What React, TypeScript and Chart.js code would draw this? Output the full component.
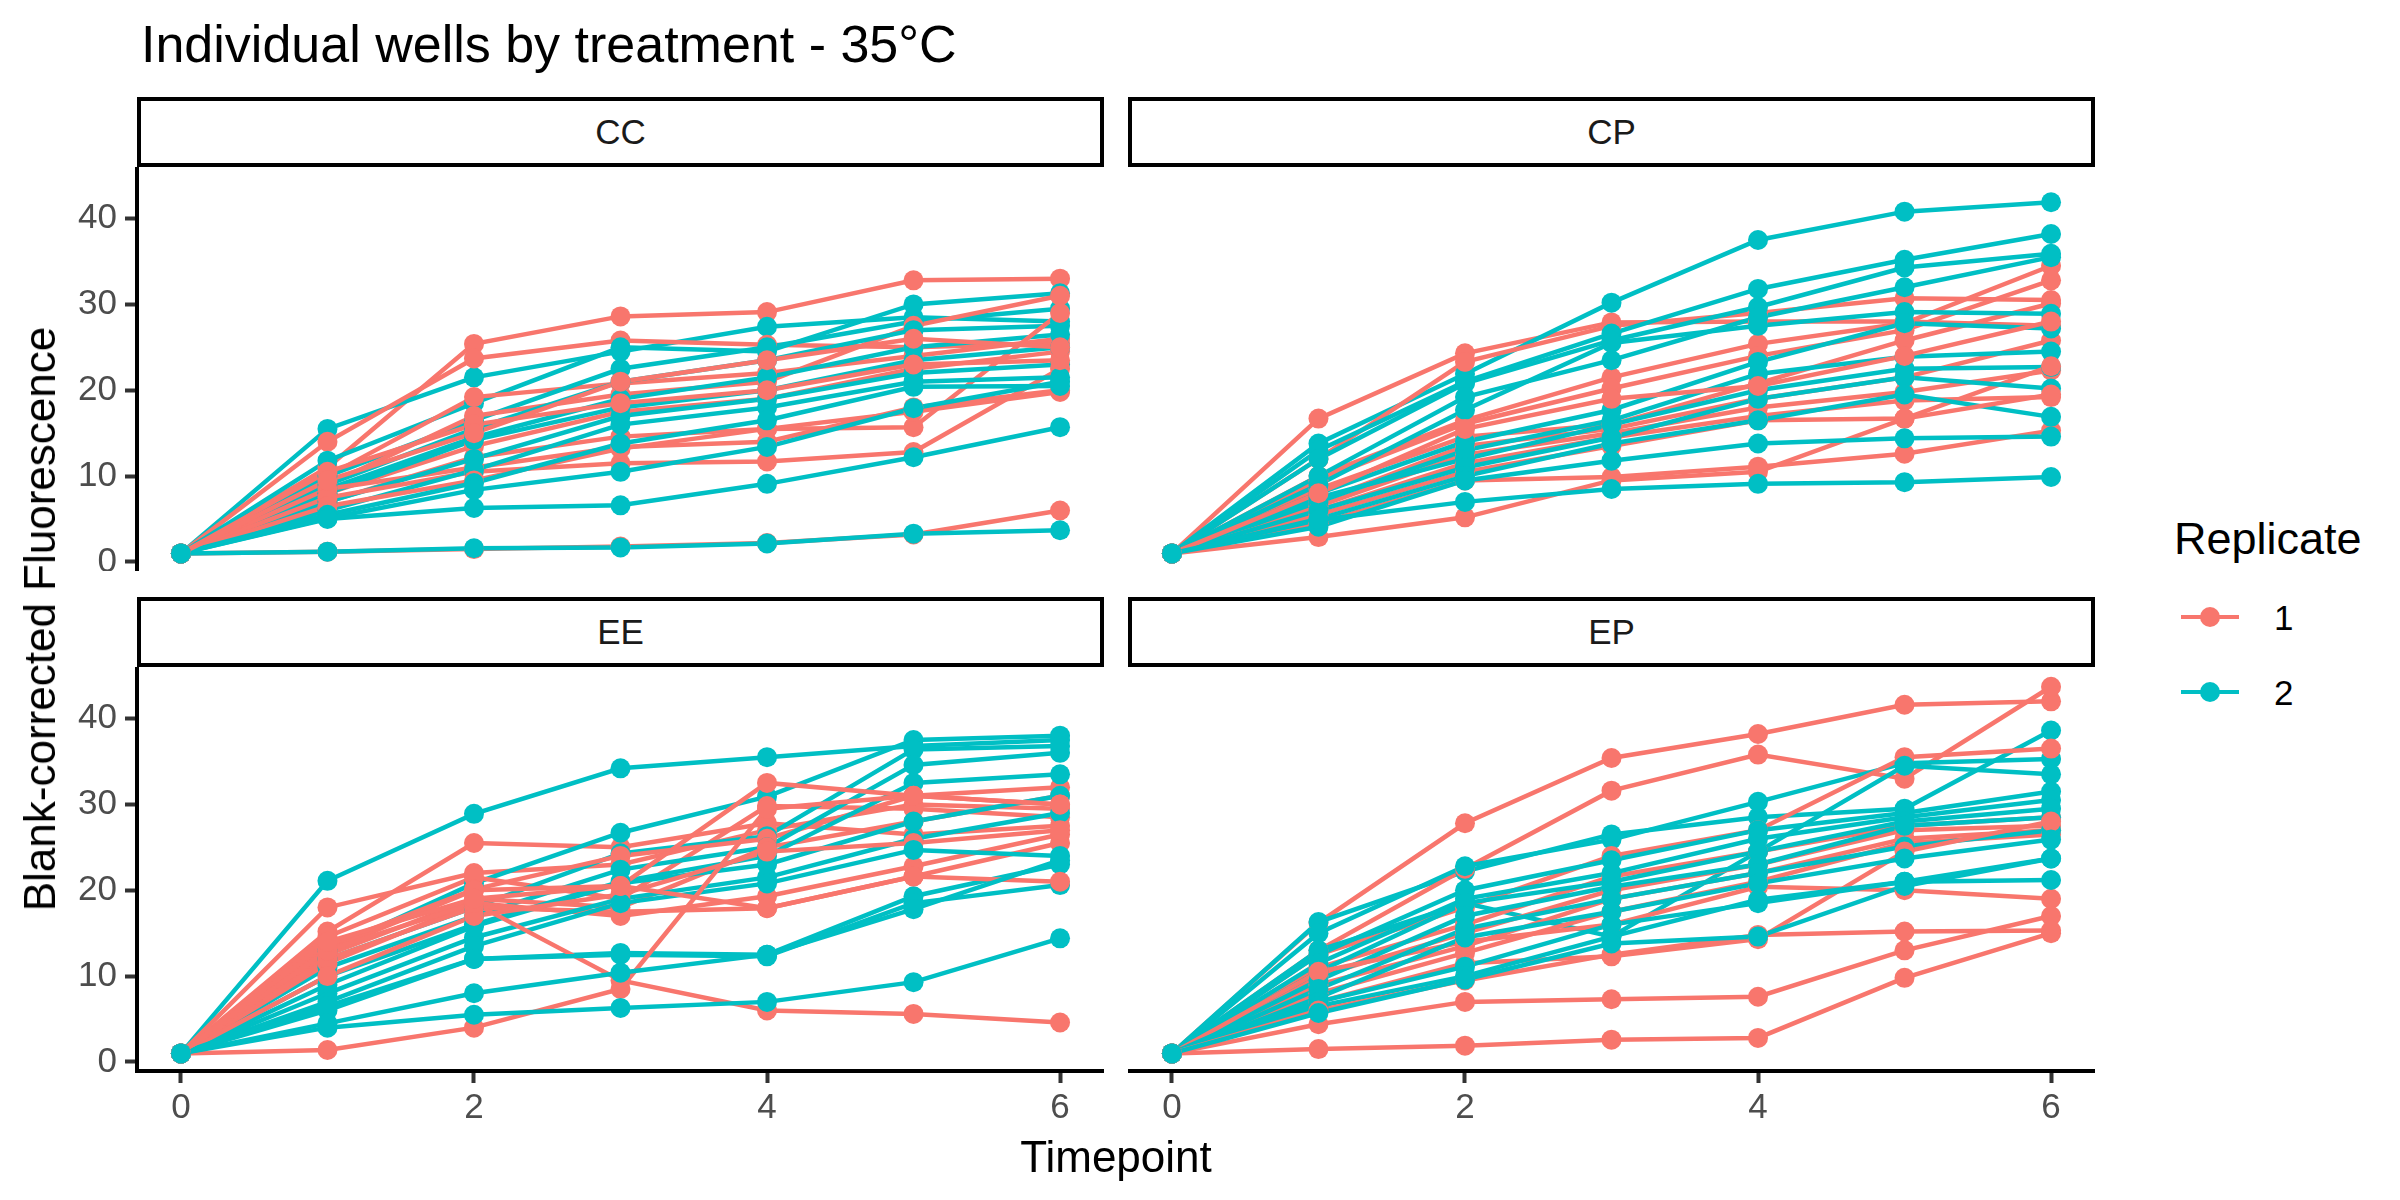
import React, { useEffect, useRef } from "react";
import { Chart, registerables } from "chart.js";

Chart.register(...registerables);

const timepoints = [0, 1, 2, 3, 4, 5, 6];
const xTicks = [0, 2, 4, 6];
const yTicks = [0, 10, 20, 30, 40];
const replicates = ["1", "2"];
const repColors = ["#F8766D", "#00BFC4"];

// CC
const ccRep1: number[][] = [
  [1.0, 11.0, 25.4, 28.6, 29.1, 32.8, 33.0],
  [1.0, 14.0, 23.7, 25.8, 25.3, 25.0, 25.5],
  [1.0, 10.0, 19.2, 20.8, 22.0, 24.0, 26.0],
  [1.0, 9.0, 17.0, 19.5, 21.0, 27.5, 31.0],
  [1.0, 8.0, 13.5, 17.5, 19.0, 22.5, 24.5],
  [1.0, 7.0, 12.2, 14.6, 15.5, 15.7, 29.0],
  [1.0, 8.5, 11.0, 13.4, 14.0, 18.0, 20.0],
  [1.0, 7.5, 10.5, 11.5, 11.7, 12.8, 22.5],
  [1.0, 6.5, 9.5, 13.2, 15.5, 17.5, 19.8],
  [1.0, 1.2, 1.5, 1.8, 2.2, 3.2, 6.0],
  [1.0, 10.5, 16.0, 18.5, 20.0, 23.0, 23.5],
  [1.0, 9.5, 15.0, 21.0, 23.5, 26.0, 25.0],
];
const ccRep2: number[][] = [
  [1.0, 15.5, 21.5, 24.5, 27.4, 28.5, 28.0],
  [1.0, 11.8, 18.5, 25.0, 24.5, 30.0, 31.3],
  [1.0, 10.0, 16.5, 22.5, 25.0, 28.0, 29.5],
  [1.0, 9.0, 15.5, 21.0, 23.5, 27.0, 27.5],
  [1.0, 8.5, 14.5, 19.0, 21.5, 25.0, 26.5],
  [1.0, 8.0, 14.2, 18.0, 20.0, 23.5, 25.0],
  [1.0, 7.0, 12.0, 17.0, 19.0, 22.0, 23.0],
  [1.0, 6.0, 10.7, 16.0, 18.0, 21.0, 21.5],
  [1.0, 5.5, 9.2, 13.8, 16.5, 20.4, 20.5],
  [1.0, 5.1, 8.4, 10.5, 13.4, 17.9, 21.0],
  [1.0, 5.0, 6.3, 6.6, 9.1, 12.2, 15.7],
  [1.0, 1.2, 1.6, 1.7, 2.15, 3.3, 3.7],
];

// CP
const cpRep1: number[][] = [
  [1.0, 16.7, 24.3, 27.9, 28.0, 28.0, 27.5],
  [1.0, 12.0, 23.3, 27.5, 29.0, 30.7, 30.5],
  [1.0, 10.0, 16.5, 21.5, 25.4, 27.8, 34.5],
  [1.0, 9.5, 16.1, 20.2, 24.0, 27.0, 32.8],
  [1.0, 8.5, 14.6, 16.0, 20.8, 25.8, 30.1],
  [1.0, 7.0, 13.5, 15.5, 19.0, 21.5, 25.8],
  [1.0, 6.5, 12.5, 15.0, 18.0, 19.8, 22.3],
  [1.0, 6.0, 11.5, 14.5, 17.0, 18.8, 19.2],
  [1.0, 5.5, 10.5, 13.5, 16.5, 16.7, 22.8],
  [1.0, 4.5, 9.5, 9.9, 11.1, 12.6, 15.3],
  [1.0, 2.9, 5.2, 9.5, 10.5, 16.7, 19.5],
  [1.0, 8.0, 15.5, 19.0, 20.5, 24.0, 28.0],
];
const cpRep2: number[][] = [
  [1.0, 13.8, 21.9, 30.2, 37.5, 40.8, 41.9],
  [1.0, 13.0, 21.0, 26.6, 31.8, 35.2, 38.2],
  [1.0, 12.0, 20.8, 25.8, 29.7, 34.3, 35.9],
  [1.0, 10.0, 19.2, 23.5, 28.5, 32.0, 35.5],
  [1.0, 9.0, 17.7, 25.5, 27.5, 29.1, 28.9],
  [1.0, 8.0, 14.0, 17.7, 23.3, 27.8, 27.2],
  [1.0, 7.0, 13.0, 16.5, 21.9, 23.9, 24.5],
  [1.0, 7.5, 12.0, 16.0, 20.0, 22.5, 22.7],
  [1.0, 6.0, 11.0, 14.5, 19.0, 21.5, 20.2],
  [1.0, 5.0, 10.0, 13.8, 16.5, 19.5, 16.9],
  [1.0, 4.1, 9.5, 11.8, 13.8, 14.4, 14.6],
  [1.0, 4.9, 7.0, 8.5, 9.1, 9.3, 9.9],
];

// EE
const eeRep1: number[][] = [
  [1.0, 15.2, 25.5, 25.0, 27.8, 26.5, 27.5],
  [1.0, 18.0, 22.0, 23.0, 27.0, 30.0, 29.5],
  [1.0, 14.6, 21.5, 19.0, 29.8, 29.5, 28.5],
  [1.0, 13.5, 20.1, 24.0, 26.0, 31.0, 32.0],
  [1.0, 12.5, 19.0, 18.0, 25.0, 28.0, 31.0],
  [1.0, 11.5, 18.5, 17.0, 19.3, 22.8, 26.5],
  [1.0, 12.0, 18.0, 17.5, 17.9, 21.6, 25.5],
  [1.0, 10.0, 17.0, 19.5, 24.5, 25.5, 27.0],
  [1.0, 13.0, 20.0, 20.5, 32.5, 31.0, 30.0],
  [1.0, 13.0, 18.5, 9.5, 6.0, 5.6, 4.6],
  [1.0, 1.4, 4.0, 8.5, 29.5, 31.0, 30.0],
  [1.0, 14.0, 19.0, 20.5, 17.9, 21.6, 21.0],
];
const eeRep2: number[][] = [
  [1.0, 21.1, 28.9, 34.2, 35.5, 36.8, 37.5],
  [1.0, 13.0, 20.8, 26.7, 30.9, 37.5, 38.0],
  [1.0, 12.0, 18.0, 24.3, 26.3, 36.4, 36.8],
  [1.0, 11.0, 17.0, 22.4, 25.0, 34.6, 36.0],
  [1.0, 10.0, 16.0, 21.0, 24.0, 32.5, 33.5],
  [1.0, 9.0, 15.8, 20.8, 23.0, 28.0, 31.0],
  [1.0, 8.0, 14.5, 19.0, 21.5, 26.0, 29.0],
  [1.0, 7.0, 13.5, 18.5, 20.8, 24.7, 24.0],
  [1.0, 6.5, 12.0, 12.7, 12.5, 19.3, 23.0],
  [1.0, 6.0, 12.0, 12.5, 12.3, 18.5, 20.6],
  [1.0, 4.0, 5.5, 6.3, 7.0, 9.3, 14.4],
  [1.0, 4.5, 8.0, 10.4, 12.5, 17.8, 23.5],
];

// EP
const epRep1: number[][] = [
  [1.0, 16.2, 27.8, 35.4, 38.2, 41.6, 42.0],
  [1.0, 13.0, 22.5, 31.6, 35.8, 33.0, 43.7],
  [1.0, 12.5, 18.0, 24.0, 27.0, 35.5, 36.5],
  [1.0, 11.0, 16.0, 21.6, 24.5, 27.5, 28.5],
  [1.0, 10.0, 15.0, 20.0, 23.0, 27.0, 27.5],
  [1.0, 9.0, 13.5, 19.0, 22.0, 26.0, 27.0],
  [1.0, 8.0, 12.7, 17.5, 21.0, 25.5, 26.5],
  [1.0, 10.5, 14.0, 16.0, 20.4, 20.0, 19.0],
  [1.0, 7.0, 11.5, 12.3, 14.3, 24.5, 28.0],
  [1.0, 4.4, 7.0, 7.3, 7.6, 13.0, 17.0],
  [1.0, 1.5, 1.9, 2.6, 2.8, 9.8, 15.0],
  [1.0, 6.0, 9.5, 12.5, 14.8, 15.2, 15.3],
];
const epRep2: number[][] = [
  [1.0, 16.3, 22.2, 26.5, 28.5, 29.5, 38.6],
  [1.0, 15.0, 22.8, 25.9, 30.3, 34.8, 35.3],
  [1.0, 13.0, 18.5, 14.6, 24.5, 34.5, 33.5],
  [1.0, 12.5, 20.0, 23.5, 27.0, 29.0, 31.5],
  [1.0, 11.5, 19.0, 22.0, 26.0, 28.5, 30.5],
  [1.0, 10.5, 18.5, 21.0, 24.5, 28.0, 29.5],
  [1.0, 9.5, 17.0, 20.4, 23.0, 27.5, 28.5],
  [1.0, 8.5, 15.5, 19.0, 22.0, 25.1, 27.0],
  [1.0, 7.5, 14.5, 17.5, 20.8, 23.7, 25.9],
  [1.0, 7.0, 11.1, 16.0, 18.5, 21.0, 23.7],
  [1.0, 6.5, 10.0, 14.6, 18.9, 21.0, 21.2],
  [1.0, 5.7, 9.6, 13.8, 14.6, 20.5, 23.7],
];

const FONT = '"Liberation Sans", Arial, Helvetica, sans-serif';

// panel geometry (px)
const PANEL_W = 967;
const PANEL_H = 404;
const Y_AXIS_W = 137;
const X_AXIS_H = 70;
const colLeft = [137, 1128];
const rowTop = [167, 667];
const STRIP_H = 70;

interface PanelProps {
  rep1: number[][];
  rep2: number[][];
  left: number;
  top: number;
  showY: boolean;
  showX: boolean;
}

const Panel: React.FC<PanelProps> = ({ rep1, rep2, left, top, showY, showX }) => {
  const canvasRef = useRef<HTMLCanvasElement | null>(null);
  const w = PANEL_W + (showY ? Y_AXIS_W : 0);
  const h = PANEL_H + (showX ? X_AXIS_H : 0);

  useEffect(() => {
    if (!canvasRef.current) return;
    const toPts = (vals: number[]) => vals.map((v, i) => ({ x: timepoints[i], y: v }));
    const wells: { vals: number[]; color: string }[] = [];
    const n = Math.max(rep1.length, rep2.length);
    for (let i = 0; i < n; i++) {
      if (rep1[i]) wells.push({ vals: rep1[i], color: repColors[0] });
      if (rep2[i]) wells.push({ vals: rep2[i], color: repColors[1] });
    }
    // first datasets are drawn on top in chart.js, so points go first
    const pointSets = wells.map((wl) => ({
      data: toPts(wl.vals),
      showLine: false,
      pointRadius: 10,
      pointBorderWidth: 0,
      pointBackgroundColor: wl.color,
      borderColor: wl.color,
    }));
    const lineSets = wells.map((wl) => ({
      data: toPts(wl.vals),
      showLine: true,
      borderColor: wl.color,
      borderWidth: 4.5,
      pointRadius: 0,
      tension: 0,
    }));

    const chart = new Chart(canvasRef.current, {
      type: "line",
      data: { datasets: [...pointSets.reverse(), ...lineSets.reverse()] as any },
      options: {
        animation: false,
        responsive: false,
        devicePixelRatio: 1,
        clip: false as any,
        layout: { padding: 0, autoPadding: false },
        plugins: { legend: { display: false }, tooltip: { enabled: false } },
        scales: {
          x: {
            type: "linear",
            min: -0.3,
            max: 6.3,
            display: showX,
            afterBuildTicks: (s: any) => {
              s.ticks = xTicks.map((v) => ({ value: v }));
            },
            afterFit: (s: any) => {
              s.height = showX ? X_AXIS_H : 0;
              s.paddingLeft = 0;
              s.paddingRight = 0;
            },
            ticks: { font: { family: FONT, size: 35 }, color: "#4D4D4D", padding: 4, maxRotation: 0 },
            grid: { drawOnChartArea: false, drawTicks: true, tickLength: 12, tickWidth: 4, tickColor: "#333333" },
            border: { display: true, color: "#000000", width: 4 },
          },
          y: {
            type: "linear",
            min: -1.05,
            max: 46.0,
            display: showY,
            afterBuildTicks: (s: any) => {
              s.ticks = yTicks.map((v) => ({ value: v }));
            },
            afterFit: (s: any) => {
              s.width = showY ? Y_AXIS_W : 0;
              s.paddingTop = 0;
              s.paddingBottom = 0;
            },
            ticks: { font: { family: FONT, size: 35 }, color: "#4D4D4D", padding: 8 },
            grid: { drawOnChartArea: false, drawTicks: true, tickLength: 12, tickWidth: 4, tickColor: "#333333" },
            border: { display: true, color: "#000000", width: 4 },
          },
        },
      },
    });
    return () => {
      chart.destroy();
    };
  }, [rep1, rep2, showX, showY]);

  return (
    <canvas
      ref={canvasRef}
      width={w}
      height={h}
      style={{
        position: "absolute",
        left: left - (showY ? Y_AXIS_W : 0),
        top,
        width: w,
        height: h,
      }}
    />
  );
};

const Txt: React.FC<{
  x: number;
  y: number;
  size: number;
  color?: string;
  anchor?: "left" | "center";
  rotate?: boolean;
  children: React.ReactNode;
}> = ({ x, y, size, color = "#000000", anchor = "left", rotate, children }) => (
  <div
    style={{
      position: "absolute",
      left: x,
      top: y,
      fontFamily: FONT,
      fontSize: size,
      lineHeight: 1,
      color,
      whiteSpace: "nowrap",
      transform: `translate(${anchor === "center" ? "-50%" : "0"}, -50%)${rotate ? " rotate(-90deg)" : ""}`,
    }}
  >
    {children}
  </div>
);

const Strip: React.FC<{ label: string; left: number; top: number }> = ({ label, left, top }) => (
  <div
    style={{
      position: "absolute",
      left,
      top,
      width: PANEL_W,
      height: STRIP_H,
      boxSizing: "border-box",
      border: "4px solid #000000",
      background: "#FFFFFF",
      display: "flex",
      alignItems: "center",
      justifyContent: "center",
      fontFamily: FONT,
      fontSize: 35,
      color: "#1A1A1A",
    }}
  >
    {label}
  </div>
);

const panelNames = ["CC", "CP", "EE", "EP"];
const panelData = [
  [ccRep1, ccRep2],
  [cpRep1, cpRep2],
  [eeRep1, eeRep2],
  [epRep1, epRep2],
];

export default function App() {
  const legendY = [617, 692];
  return (
    <div
      style={{
        position: "absolute",
        left: 0,
        top: 0,
        width: 2400,
        height: 1200,
        background: "#FFFFFF",
        overflow: "hidden",
      }}
    >
      <Txt x={141} y={44} size={52}>
        Individual wells by treatment - 35°C
      </Txt>
      {panelNames.map((name, i) => {
        const col = i % 2;
        const row = Math.floor(i / 2);
        return (
          <React.Fragment key={name}>
            <Strip label={name} left={colLeft[col]} top={rowTop[row] - STRIP_H} />
            <Panel
              rep1={panelData[i][0]}
              rep2={panelData[i][1]}
              left={colLeft[col]}
              top={rowTop[row]}
              showY={col === 0}
              showX={row === 1}
            />
          </React.Fragment>
        );
      })}
      <Txt x={40} y={619} size={44} anchor="center" rotate>
        Blank-corrected Fluorescence
      </Txt>
      <Txt x={1116} y={1157} size={44} anchor="center">
        Timepoint
      </Txt>
      <Txt x={2174} y={538} size={45}>
        Replicate
      </Txt>
      {replicates.map((r, i) => (
        <React.Fragment key={r}>
          <div
            style={{
              position: "absolute",
              left: 2181,
              top: legendY[i] - 2,
              width: 58,
              height: 4,
              background: repColors[i],
            }}
          />
          <div
            style={{
              position: "absolute",
              left: 2210 - 10,
              top: legendY[i] - 10,
              width: 20,
              height: 20,
              borderRadius: 10,
              background: repColors[i],
            }}
          />
          <Txt x={2274} y={legendY[i]} size={35}>
            {r}
          </Txt>
        </React.Fragment>
      ))}
    </div>
  );
}
